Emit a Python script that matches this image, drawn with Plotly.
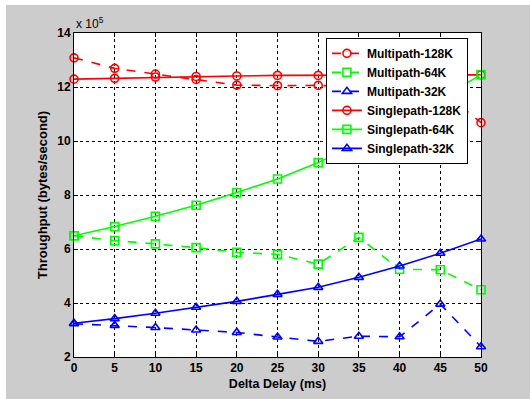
import plotly.graph_objects as go

# Delta delay (ms) on the x axis
delta_delay = [0, 5, 10, 15, 20, 25, 30, 35, 40, 45, 50]

# Throughput in units of 1e5 bytes/second
multipath_128k = [13.08, 12.69, 12.48, 12.28, 12.07, 12.05, 12.06, 12.0, 11.95, 11.9, 10.68]
multipath_64k = [6.49, 6.31, 6.19, 6.05, 5.88, 5.80, 5.44, 6.43, 5.25, 5.23, 4.49]
multipath_32k = [3.23, 3.17, 3.09, 3.00, 2.91, 2.74, 2.58, 2.77, 2.75, 3.96, 2.38]
singlepath_128k = [12.29, 12.32, 12.37, 12.39, 12.41, 12.43, 12.43, 12.44, 12.44, 12.45, 12.45]
singlepath_64k = [6.49, 6.83, 7.21, 7.62, 8.09, 8.59, 9.20, 9.93, 10.72, 11.56, 12.46]
singlepath_32k = [3.25, 3.42, 3.62, 3.84, 4.06, 4.32, 4.58, 4.95, 5.37, 5.84, 6.37]

y_ticks = [2, 4, 6, 8, 10, 12, 14]
x_ticks = [0, 5, 10, 15, 20, 25, 30, 35, 40, 45, 50]

RED, GREEN, BLUE = "#ff0000", "#00ff00", "#0000ff"

series = [
    ("Multipath-128K", multipath_128k, RED, "circle-open", "dash"),
    ("Multipath-64K", multipath_64k, GREEN, "square-open", "dash"),
    ("Multipath-32K", multipath_32k, BLUE, "triangle-up-open", "dash"),
    ("Singlepath-128K", singlepath_128k, RED, "circle-open", "solid"),
    ("Singlepath-64K", singlepath_64k, GREEN, "square-open", "solid"),
    ("Singlepath-32K", singlepath_32k, BLUE, "triangle-up-open", "solid"),
]

fig = go.Figure()
for name, ys, color, symbol, dash in series:
    fig.add_trace(go.Scatter(
        x=delta_delay, y=ys, name=name, mode="lines+markers",
        line=dict(color=color, width=1.6, dash=dash),
        marker=dict(symbol=symbol, size=8, color=color,
                    line=dict(color=color, width=1.6)),
        cliponaxis=False,
    ))

FAMILY = "Liberation Sans, Arial, sans-serif"

axis_common = dict(
    showline=True, linecolor="black", linewidth=1, mirror="ticks",
    ticks="inside", ticklen=4, tickcolor="black", tickwidth=1,
    showgrid=True, gridcolor="black", gridwidth=1, griddash="3px,3px",
    zeroline=False,
    tickfont=dict(family=FAMILY, size=12, color="black", weight="bold"),
)

fig.update_xaxes(range=[0, 50], tickvals=x_ticks, **axis_common,
                 title=dict(text="<b>Delta Delay (ms)</b>", standoff=4,
                            font=dict(size=12.5)))
fig.update_yaxes(range=[2, 14], tickvals=y_ticks, **axis_common,
                 title=dict(text="<b>Throughput (bytes/second)</b>", standoff=6,
                            font=dict(size=13)))

fig.update_layout(
    width=530, height=399,
    margin=dict(l=74, r=49, t=33, b=42),
    paper_bgcolor="#cccccc", plot_bgcolor="white",
    font=dict(family=FAMILY, size=12, color="black"),
    showlegend=True,
    legend=dict(
        x=0.619, y=0.985, xanchor="left", yanchor="top",
        bgcolor="white", bordercolor="black", borderwidth=1,
        font=dict(size=12, weight="bold", color="black"),
        tracegroupgap=0, itemwidth=30,
    ),
    annotations=[dict(
        text="x 10<sup>5</sup>", xref="paper", yref="paper",
        x=0.0, y=1.0, xanchor="left", yanchor="bottom",
        showarrow=False, font=dict(size=12, color="black"),
    )],
    shapes=[
        # thin white border along the top and left edges of the figure
        dict(type="rect", xref="paper", yref="paper",
             x0=-74 / 407, x1=(530 - 74) / 407, y0=(357 - 5) / 324, y1=(357 + 1) / 324 + 0.01,
             fillcolor="white", line=dict(width=0), layer="below"),
        dict(type="rect", xref="paper", yref="paper",
             x0=-74 / 407 - 0.01, x1=(6 - 74) / 407, y0=-42 / 324 - 0.01, y1=357 / 324 + 0.01,
             fillcolor="white", line=dict(width=0), layer="below"),
    ],
)

fig.write_html("out.html")
